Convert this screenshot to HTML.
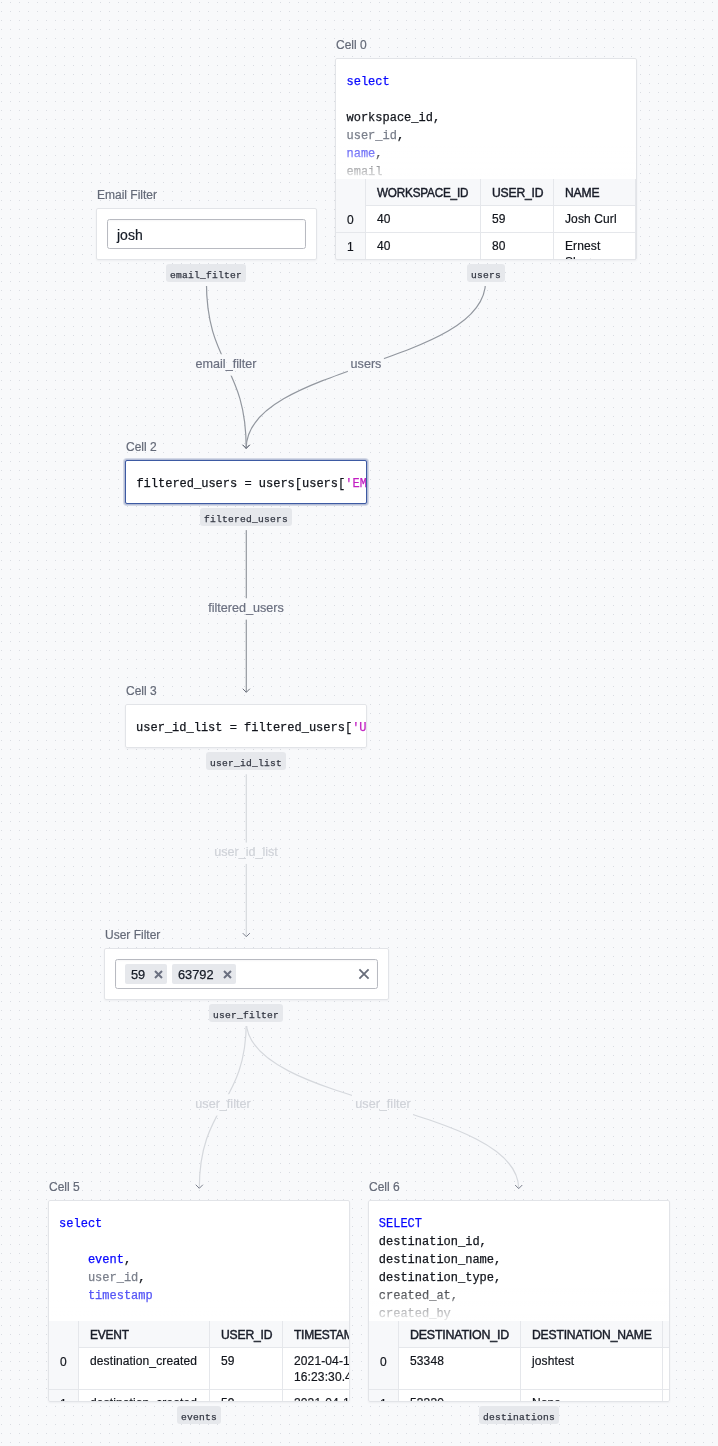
<!DOCTYPE html>
<html><head><meta charset="utf-8"><style>
html,body{margin:0;padding:0}
body>*{will-change:transform}
body{width:718px;height:1446px;position:relative;overflow:hidden;-webkit-font-smoothing:antialiased;background-color:#f8f9fb;
background-image:radial-gradient(circle at 1.5px 2.5px, #d9dce2 0.75px, transparent 0.9px);
background-size:9px 9px;font-family:"Liberation Sans", sans-serif}
.edges{position:absolute;left:0;top:0}
.el{position:absolute;width:200px;text-align:center;font-size:12.6px;line-height:16px;white-space:nowrap;-webkit-text-stroke:0.2px currentColor}
.nl{position:absolute;font-size:12px;line-height:16px;color:#646a78;white-space:nowrap;-webkit-text-stroke:0.2px currentColor}
.t{position:absolute;white-space:nowrap;-webkit-text-stroke:0.2px currentColor}
.box{position:absolute;box-sizing:border-box;border:1px solid #e2e4e8;background:#fff;border-radius:2px;box-shadow:0 1px 2px rgba(30,40,60,0.05)}
.inp{position:absolute;box-sizing:border-box;border:1px solid #b8bac1;background:#fff;border-radius:2.5px;box-shadow:inset 0 1px 2px rgba(20,30,50,0.04)}
.pill{position:absolute;height:18px;box-sizing:border-box;padding-top:3px;background:#e6e8ec;border-radius:3px;font-family:"Liberation Mono", monospace;font-size:9.6px;letter-spacing:0.24px;line-height:17.5px;color:#323642;text-align:center;white-space:nowrap;-webkit-text-stroke:0.25px currentColor}
.cell{position:absolute;overflow:hidden;background:#fff;border-radius:2px}
.cell.sel{box-sizing:border-box;border:1px solid #3d5aa3;box-shadow:0 0 0 1px #b4bdd6,0 0 0 2px rgba(180,189,214,0.55)}
.code{position:absolute;font-family:"Liberation Mono", monospace;font-size:12px;line-height:18px;color:#12151c;white-space:pre;-webkit-text-stroke:0.25px currentColor}
.th{position:absolute;font-size:12.6px;letter-spacing:-0.2px;line-height:16px;color:#181c28;white-space:nowrap;-webkit-text-stroke:0.45px currentColor;transform:scaleX(0.93);transform-origin:0 0}
.td{position:absolute;font-size:12px;letter-spacing:0.12px;line-height:16px;color:#12151c;white-space:normal;-webkit-text-stroke:0.2px currentColor}
.chip{position:absolute;background:#e6e8ec;border-radius:2px}
</style></head>
<body>
<svg class="edges" width="718" height="1446"><defs>
<mask id="m0" maskUnits="userSpaceOnUse" x="0" y="0" width="718" height="1446"><rect x="0" y="0" width="718" height="1446" fill="#fff"/><rect x="192.3" y="354.25" width="68" height="21.4" fill="#000"/><rect x="198.4" y="279.5" width="16" height="6.5" fill="#000"/></mask>
<mask id="m1" maskUnits="userSpaceOnUse" x="0" y="0" width="718" height="1446"><rect x="0" y="0" width="718" height="1446" fill="#fff"/><rect x="347.9" y="354.25" width="36" height="21.4" fill="#000"/><rect x="477.6" y="279.5" width="16" height="6.5" fill="#000"/></mask>
<mask id="m2" maskUnits="userSpaceOnUse" x="0" y="0" width="718" height="1446"><rect x="0" y="0" width="718" height="1446" fill="#fff"/><rect x="206.3" y="598.25" width="80" height="21.4" fill="#000"/><rect x="238.3" y="523.6" width="16" height="6.5" fill="#000"/></mask>
<mask id="m3" maskUnits="userSpaceOnUse" x="0" y="0" width="718" height="1446"><rect x="0" y="0" width="718" height="1446" fill="#fff"/><rect x="212.3" y="842.55" width="68" height="21.4" fill="#000"/><rect x="238.3" y="767.8" width="16" height="6.5" fill="#000"/></mask>
<mask id="m4" maskUnits="userSpaceOnUse" x="0" y="0" width="718" height="1446"><rect x="0" y="0" width="718" height="1446" fill="#fff"/><rect x="192.3" y="1094.2" width="61" height="21.4" fill="#000"/><rect x="238.3" y="1019.5" width="16" height="6.5" fill="#000"/></mask>
<mask id="m5" maskUnits="userSpaceOnUse" x="0" y="0" width="718" height="1446"><rect x="0" y="0" width="718" height="1446" fill="#fff"/><rect x="352.0" y="1094.35" width="61" height="21.4" fill="#000"/><rect x="238.3" y="1019.5" width="16" height="6.5" fill="#000"/></mask>
</defs>
<path d="M206.4,281.5 C206.4,364.95 246.2,364.95 246.2,448.4" fill="none" stroke="#92979f" stroke-width="1.2" mask="url(#m0)"/>
<path d="M242.89999999999998,445.09999999999997 L246.2,448.4 L249.5,445.09999999999997" fill="none" stroke="#6a6f7b" stroke-width="1" stroke-linecap="round" stroke-linejoin="round"/>
<path d="M485.6,281.5 C485.6,364.95 246.2,364.95 246.2,448.4" fill="none" stroke="#92979f" stroke-width="1.2" mask="url(#m1)"/>
<path d="M242.89999999999998,445.09999999999997 L246.2,448.4 L249.5,445.09999999999997" fill="none" stroke="#6a6f7b" stroke-width="1" stroke-linecap="round" stroke-linejoin="round"/>
<path d="M246.3,525.6 C246.3,608.95 246.3,608.95 246.3,692.3" fill="none" stroke="#92979f" stroke-width="1.2" mask="url(#m2)"/>
<path d="M243.0,689.0 L246.3,692.3 L249.60000000000002,689.0" fill="none" stroke="#6a6f7b" stroke-width="1" stroke-linecap="round" stroke-linejoin="round"/>
<path d="M246.3,769.8 C246.3,853.25 246.3,853.25 246.3,936.7" fill="none" stroke="#d5d8dd" stroke-width="1.2" mask="url(#m3)"/>
<path d="M243.0,933.4000000000001 L246.3,936.7 L249.60000000000002,933.4000000000001" fill="none" stroke="#7a7f8c" stroke-width="1" stroke-linecap="round" stroke-linejoin="round"/>
<path d="M246.3,1021.5 C246.3,1104.9 199.3,1104.9 199.3,1188.3" fill="none" stroke="#d5d8dd" stroke-width="1.2" mask="url(#m4)"/>
<path d="M196.0,1185.0 L199.3,1188.3 L202.60000000000002,1185.0" fill="none" stroke="#7a7f8c" stroke-width="1" stroke-linecap="round" stroke-linejoin="round"/>
<path d="M246.3,1021.5 C246.3,1105.05 518.7,1105.05 518.7,1188.6" fill="none" stroke="#d5d8dd" stroke-width="1.2" mask="url(#m5)"/>
<path d="M515.4000000000001,1185.3 L518.7,1188.6 L522.0,1185.3" fill="none" stroke="#7a7f8c" stroke-width="1" stroke-linecap="round" stroke-linejoin="round"/>
</svg>
<div class="el" style="left:126.30000000000001px;top:356.19px;color:#6b7080">email_filter</div>
<div class="el" style="left:265.9px;top:356.19px;color:#6b7080">users</div>
<div class="el" style="left:146.3px;top:600.19px;color:#6b7080">filtered_users</div>
<div class="el" style="left:146.3px;top:844.49px;color:#cfd2d8">user_id_list</div>
<div class="el" style="left:122.80000000000001px;top:1096.14px;color:#cfd2d8">user_filter</div>
<div class="el" style="left:282.5px;top:1096.29px;color:#cfd2d8">user_filter</div>
<div class="nl" style="left:97px;top:186.64px">Email Filter</div>
<div class="box" style="left:96px;top:208px;width:221px;height:52px"></div>
<div class="inp" style="left:107px;top:219px;width:199px;height:30px"></div>
<div class="t" style="left:117px;top:225.85px;font-size:14px;line-height:18px;color:#151b26">josh</div>
<div class="pill" style="left:166px;top:264px;width:80px">email_filter</div>
<div class="nl" style="left:336px;top:37.14px">Cell 0</div>
<div class="cell" style="left:335px;top:58px;width:302px;height:202px"><div class="code" style="left:11.5px;top:14.810000000000002px"><span style="color:#0808ff">select</span></div><div class="code" style="left:11.5px;top:32.81px"></div><div class="code" style="left:11.5px;top:50.81px">workspace_id,</div><div class="code" style="left:11.5px;top:68.81px"><span style="color:#7a7f8b">user_id</span>,</div><div class="code" style="left:11.5px;top:86.81px"><span style="color:#5656f6">name</span>,</div><div class="code" style="left:11.5px;top:104.81px">email</div><div style="position:absolute;left:0;top:88px;width:302px;height:33px;background:linear-gradient(rgba(255,255,255,0),rgba(255,255,255,0.93))"></div><div style="position:absolute;left:0;top:121px;width:302px;height:81px;background:#fff"></div><div style="position:absolute;left:0;top:121px;width:302px;height:27px;background:#f7f8fa;border-bottom:1px solid #e5e7eb;box-sizing:border-box"></div><div style="position:absolute;left:0;top:121px;width:30px;height:81px;background:#f7f8fa"></div><div style="position:absolute;left:0;top:174px;width:302px;height:1px;background:#e5e7eb"></div><div style="position:absolute;left:30px;top:121px;width:1px;height:81px;background:#e5e7eb"></div><div style="position:absolute;left:145px;top:121px;width:1px;height:81px;background:#e5e7eb"></div><div style="position:absolute;left:218px;top:121px;width:1px;height:81px;background:#e5e7eb"></div><div style="position:absolute;left:300px;top:121px;width:1px;height:81px;background:#e5e7eb"></div><div class="th" style="left:42px;top:127.13999999999999px;transform:scaleX(0.93)">WORKSPACE_ID</div><div class="th" style="left:157px;top:127.13999999999999px;transform:scaleX(0.965)">USER_ID</div><div class="th" style="left:230px;top:127.13999999999999px;transform:scaleX(0.965)">NAME</div><div class="td" style="left:12px;top:154.14px">0</div><div class="td" style="left:42px;top:153.14px;width:95px">40</div><div class="td" style="left:157px;top:153.14px;width:53px">59</div><div class="td" style="left:230px;top:153.14px;width:62px">Josh Curl</div><div class="td" style="left:12px;top:181.14px">1</div><div class="td" style="left:42px;top:180.14px;width:95px">40</div><div class="td" style="left:157px;top:180.14px;width:53px">80</div><div class="td" style="left:230px;top:180.14px;width:62px">Ernest<br>Sharp</div></div>
<div class="box" style="left:335px;top:58px;width:302px;height:202px;background:transparent"></div>
<div class="pill" style="left:467px;top:264px;width:38px">users</div>
<div class="nl" style="left:49px;top:1179.14px">Cell 5</div>
<div class="cell" style="left:48px;top:1200px;width:302px;height:202px"><div class="code" style="left:11.100000000000001px;top:14.6099999999999px"><span style="color:#0808ff">select</span></div><div class="code" style="left:11.100000000000001px;top:32.6099999999999px"></div><div class="code" style="left:11.100000000000001px;top:50.6099999999999px">    <span style="color:#0808ff">event</span>,</div><div class="code" style="left:11.100000000000001px;top:68.6099999999999px">    <span style="color:#7a7f8b">user_id</span>,</div><div class="code" style="left:11.100000000000001px;top:86.6099999999999px">    <span style="color:#5656f6">timestamp</span></div><div style="position:absolute;left:0;top:100px;width:302px;height:21px;background:linear-gradient(rgba(255,255,255,0),rgba(255,255,255,0.93))"></div><div style="position:absolute;left:0;top:121px;width:302px;height:81px;background:#fff"></div><div style="position:absolute;left:0;top:121px;width:302px;height:26.5px;background:#f7f8fa;border-bottom:1px solid #e5e7eb;box-sizing:border-box"></div><div style="position:absolute;left:0;top:121px;width:30px;height:81px;background:#f7f8fa"></div><div style="position:absolute;left:0;top:188.5px;width:302px;height:1px;background:#e5e7eb"></div><div style="position:absolute;left:30px;top:121px;width:1px;height:81px;background:#e5e7eb"></div><div style="position:absolute;left:161px;top:121px;width:1px;height:81px;background:#e5e7eb"></div><div style="position:absolute;left:234px;top:121px;width:1px;height:81px;background:#e5e7eb"></div><div class="th" style="left:42px;top:127.1400000000001px;transform:scaleX(0.95)">EVENT</div><div class="th" style="left:173px;top:127.1400000000001px;transform:scaleX(0.965)">USER_ID</div><div class="th" style="left:246px;top:127.1400000000001px;transform:scaleX(0.95)">TIMESTAMP</div><div class="td" style="left:12px;top:153.6400000000001px">0</div><div class="td" style="left:42px;top:152.6400000000001px;width:111px">destination_created</div><div class="td" style="left:173px;top:152.6400000000001px;width:53px">59</div><div class="td" style="left:246px;top:152.6400000000001px;width:200px">2021-04-14<br>16:23:30.482</div><div class="td" style="left:12px;top:195.6400000000001px">1</div><div class="td" style="left:42px;top:194.6400000000001px;width:111px">destination_created</div><div class="td" style="left:173px;top:194.6400000000001px;width:53px">59</div><div class="td" style="left:246px;top:194.6400000000001px;width:200px">2021-04-14</div></div>
<div class="box" style="left:48px;top:1200px;width:302px;height:202px;background:transparent"></div>
<div class="pill" style="left:177px;top:1406px;width:44px">events</div>
<div class="nl" style="left:369px;top:1179.14px">Cell 6</div>
<div class="cell" style="left:368px;top:1200px;width:302px;height:202px"><div class="code" style="left:10.800000000000011px;top:14.6099999999999px"><span style="color:#0808ff">SELECT</span></div><div class="code" style="left:10.800000000000011px;top:32.6099999999999px">destination_id,</div><div class="code" style="left:10.800000000000011px;top:50.6099999999999px">destination_name,</div><div class="code" style="left:10.800000000000011px;top:68.6099999999999px">destination_type,</div><div class="code" style="left:10.800000000000011px;top:86.6099999999999px">created_at,</div><div class="code" style="left:10.800000000000011px;top:104.6099999999999px">created_by</div><div style="position:absolute;left:0;top:82px;width:302px;height:39px;background:linear-gradient(rgba(255,255,255,0),rgba(255,255,255,0.93))"></div><div style="position:absolute;left:0;top:121px;width:302px;height:81px;background:#fff"></div><div style="position:absolute;left:0;top:121px;width:302px;height:26.5px;background:#f7f8fa;border-bottom:1px solid #e5e7eb;box-sizing:border-box"></div><div style="position:absolute;left:0;top:121px;width:30px;height:81px;background:#f7f8fa"></div><div style="position:absolute;left:0;top:188.5px;width:302px;height:1px;background:#e5e7eb"></div><div style="position:absolute;left:30px;top:121px;width:1px;height:81px;background:#e5e7eb"></div><div style="position:absolute;left:152px;top:121px;width:1px;height:81px;background:#e5e7eb"></div><div style="position:absolute;left:294px;top:121px;width:1px;height:81px;background:#e5e7eb"></div><div class="th" style="left:42px;top:127.1400000000001px;transform:scaleX(0.985)">DESTINATION_ID</div><div class="th" style="left:164px;top:127.1400000000001px;transform:scaleX(0.965)">DESTINATION_NAME</div><div class="th" style="left:306px;top:127.1400000000001px;transform:scaleX(0.95)">DESTINATION_TYPE</div><div class="td" style="left:12px;top:153.6400000000001px">0</div><div class="td" style="left:42px;top:152.6400000000001px;width:102px">53348</div><div class="td" style="left:164px;top:152.6400000000001px;width:122px">joshtest</div><div class="td" style="left:306px;top:152.6400000000001px;width:200px">postgres</div><div class="td" style="left:12px;top:195.6400000000001px">1</div><div class="td" style="left:42px;top:194.6400000000001px;width:102px">53330</div><div class="td" style="left:164px;top:194.6400000000001px;width:122px">None</div><div class="td" style="left:306px;top:194.6400000000001px;width:200px">postgres</div></div>
<div class="box" style="left:368px;top:1200px;width:302px;height:202px;background:transparent"></div>
<div class="pill" style="left:479px;top:1406px;width:80px">destinations</div>
<div class="nl" style="left:126px;top:439.24px">Cell 2</div>
<div class="cell sel" style="left:125px;top:460px;width:242px;height:44px"><div class="code" style="left:10.400000000000006px;top:13.610000000000014px">filtered_users = users[users[<span style="color:#c21ec2">&#39;EMAIL&#39;</span>].str.contains(email_filter)]</div></div>
<div class="pill" style="left:200px;top:508px;width:92px">filtered_users</div>
<div class="nl" style="left:126px;top:682.64px">Cell 3</div>
<div class="cell" style="left:125px;top:704px;width:242px;height:44px"><div class="code" style="left:11.099999999999994px;top:14.809999999999945px">user_id_list = filtered_users[<span style="color:#c21ec2">&#39;USER_ID&#39;</span>].tolist()</div></div>
<div class="box" style="left:125px;top:704px;width:242px;height:44px;background:transparent"></div>
<div class="pill" style="left:206px;top:752px;width:80px">user_id_list</div>
<div class="nl" style="left:105px;top:926.54px">User Filter</div>
<div class="box" style="left:104px;top:948px;width:285px;height:52px"></div>
<div class="inp" style="left:115px;top:959px;width:263px;height:30px"></div>
<div class="chip" style="left:125px;top:964px;width:42px;height:19.5px"></div>
<div class="t" style="left:131px;top:967.16px;font-size:12.8px;line-height:16px;color:#151b26;-webkit-text-stroke:0.25px currentColor">59</div>
<svg style="position:absolute;left:153.5px;top:970px" width="9" height="9" viewBox="0 0 9 9"><path d="M1,1 L8,8 M8,1 L1,8" stroke="#6b7080" stroke-width="2" stroke-linecap="butt"/></svg>
<div class="chip" style="left:172px;top:964px;width:64px;height:19.5px"></div>
<div class="t" style="left:178px;top:967.16px;font-size:12.8px;line-height:16px;color:#151b26;-webkit-text-stroke:0.25px currentColor">63792</div>
<svg style="position:absolute;left:222.5px;top:970px" width="9" height="9" viewBox="0 0 9 9"><path d="M1,1 L8,8 M8,1 L1,8" stroke="#6b7080" stroke-width="2" stroke-linecap="butt"/></svg>
<svg style="position:absolute;left:358px;top:968px" width="12" height="12" viewBox="0 0 12 12"><path d="M1.4,1.4 L10.6,10.6 M10.6,1.4 L1.4,10.6" stroke="#686d7a" stroke-width="1.8"/></svg>
<div class="pill" style="left:209px;top:1004px;width:74px">user_filter</div>
</body></html>
